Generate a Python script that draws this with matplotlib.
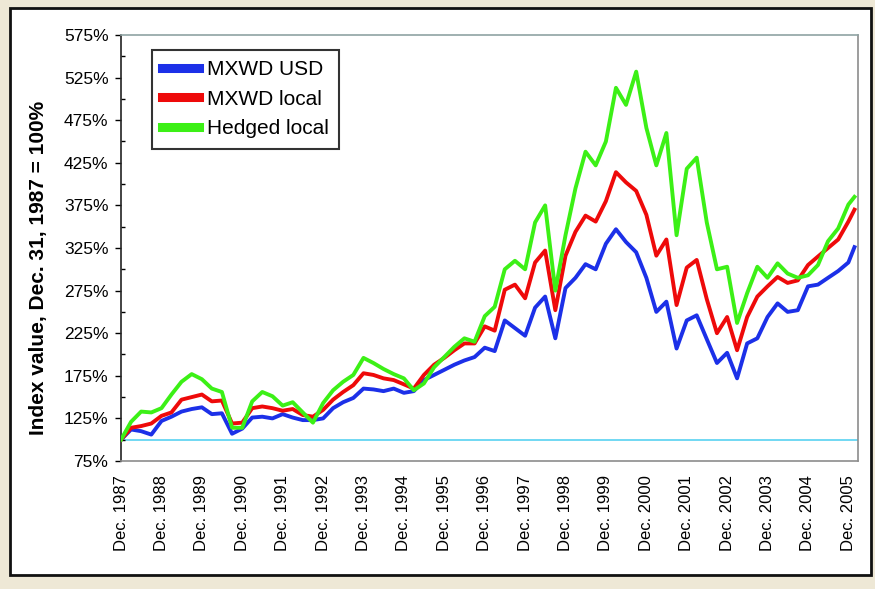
import numpy as np
import pandas as pd
import matplotlib
matplotlib.use("Agg")
import matplotlib.pyplot as plt
from matplotlib.patches import Rectangle
from matplotlib.ticker import FixedLocator, FuncFormatter

# quarter-end readings, Dec 1987 .. Dec 2005, plus last point early 2006
dates = list(pd.date_range("1987-12-31", "2005-12-31", freq="QE")) + [pd.Timestamp("2006-02-24")]

mxwd_usd = [100, 112, 110, 106, 122, 127, 133, 136, 138, 130, 131, 107, 113,
            126, 127, 125, 130, 126, 123, 123, 125, 137, 144, 149, 160,
            159, 157, 160, 155, 157, 170, 176, 182, 188, 193, 197, 208,
            204, 240, 231, 222, 255, 268, 219, 278, 290, 306, 300, 330,
            347, 332, 320, 290, 250, 262, 207, 240, 246, 218, 190, 202,
            172, 213, 219, 244, 260, 250, 252, 280, 282, 290, 298, 308, 326]

mxwd_local = [100, 114, 116, 119, 128, 132, 147, 150, 153, 145, 146, 119, 120,
              137, 139, 137, 134, 136, 129, 127, 135, 147, 156, 164, 178,
              176, 172, 170, 165, 160, 176, 188, 196, 205, 213, 213, 233,
              228, 276, 282, 266, 308, 322, 252, 316, 344, 363, 356, 380,
              414, 402, 392, 364, 316, 335, 258, 302, 311, 265, 225, 244,
              205, 244, 268, 280, 291, 284, 287, 305, 315, 325, 335, 356, 370]

hedged_local = [100, 121, 133, 132, 137, 153, 168, 177, 171, 160, 156, 114, 114,
                145, 156, 151, 140, 144, 132, 120, 143, 158, 168, 176, 196,
                190, 183, 177, 172, 158, 166, 185, 197, 209, 219, 215, 245,
                256, 300, 310, 300, 355, 375, 275, 340, 395, 438, 422, 450,
                513, 493, 532, 466, 422, 460, 340, 418, 431, 355, 300, 303,
                237, 272, 303, 290, 307, 295, 290, 293, 305, 333, 348, 376, 385]

y_major = [75, 125, 175, 225, 275, 325, 375, 425, 475, 525, 575]
y_minor = [100, 150, 200, 250, 300, 350, 400, 450, 500, 550]
tick_years = list(range(1987, 2006))
tick_labels = ["Dec. %d" % y for y in tick_years]

plt.rcParams["font.family"] = ["Liberation Sans", "DejaVu Sans"]

fig = plt.figure(figsize=(8.75, 5.89), dpi=100, facecolor="#eee8d6")
# white panel with dark frame, kept behind the axes
panel = Rectangle((10 / 875, 1 - 575 / 589), 861 / 875, 567 / 589,
                  transform=fig.transFigure, facecolor="white",
                  edgecolor="#111111", linewidth=2, zorder=-10)
fig.patches.append(panel)

ax = fig.add_axes([121 / 875, 1 - 461 / 589, 737 / 875, 426 / 589])
ax.set_zorder(5)
ax.set_facecolor("white")

ax.axhline(100, color="#66d6f2", lw=1.3, zorder=1)
ax.plot(dates, mxwd_usd, color="#1c30e8", lw=2.8, label="MXWD USD", zorder=2)
ax.plot(dates, mxwd_local, color="#ee0a0a", lw=2.8, label="MXWD local", zorder=3)
ax.plot(dates, hedged_local, color="#3cf016", lw=2.8, label="Hedged local", zorder=4)

ax.set_ylim(75, 575)
ax.yaxis.set_major_locator(FixedLocator(y_major))
ax.yaxis.set_minor_locator(FixedLocator(y_minor))
ax.yaxis.set_major_formatter(FuncFormatter(lambda v, p: "%d%%" % v))
ax.tick_params(axis="y", which="major", direction="out", length=4, width=1,
               labelsize=12.5, pad=5)
ax.tick_params(axis="y", which="minor", direction="in", length=3, width=1)

ax.set_xlim(pd.Timestamp("1987-12-31"), pd.Timestamp("2006-03-28"))
ax.set_xticks([pd.Timestamp("%d-12-31" % y) for y in tick_years])
ax.set_xticklabels(tick_labels, rotation=90, fontsize=12)
ax.tick_params(axis="x", length=0, pad=10)

ax.spines["left"].set_color("#222222")
ax.spines["bottom"].set_color("#8c8c8c")
ax.spines["right"].set_color("#8c8c8c")
ax.spines["top"].set_color("#8fa3a3")
for s in ax.spines.values():
    s.set_linewidth(1.2)

ax.set_ylabel("Index value, Dec. 31, 1987 = 100%", fontsize=15, fontweight="bold")
ax.yaxis.set_label_coords(-0.099, 0.453)

leg = ax.legend(loc="upper left", bbox_to_anchor=(0.042, 0.965), borderaxespad=0,
                fontsize=15, frameon=True, fancybox=False, labelspacing=0.5,
                handlelength=1.75, handletextpad=0.4, borderpad=0.5)
leg.get_frame().set_edgecolor("black")
leg.get_frame().set_linewidth(1.5)
for line in leg.get_lines():
    line.set_linewidth(6.5)

fig.savefig("out.png", dpi=100, facecolor=fig.get_facecolor())
